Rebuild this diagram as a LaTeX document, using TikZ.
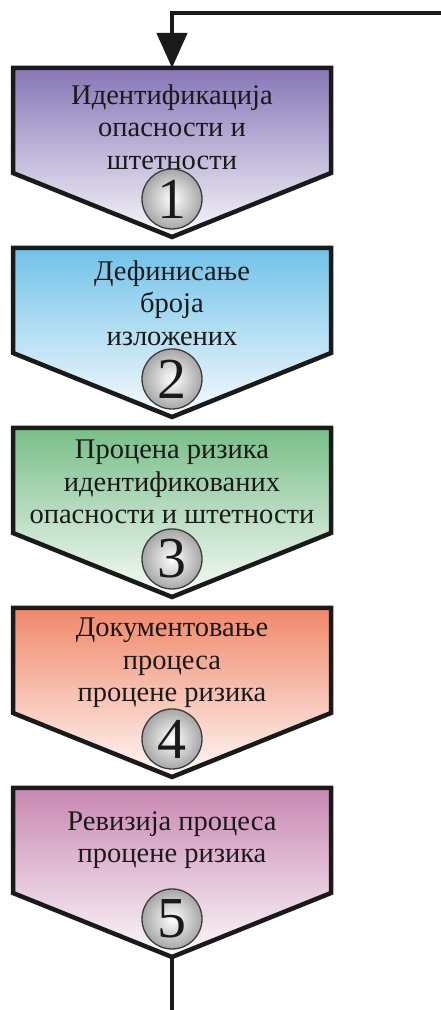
\documentclass[tikz,border=0pt]{standalone}
\usepackage{fontspec}
\setmainfont{Liberation Serif}
\usetikzlibrary{arrows.meta}
\definecolor{tintA}{HTML}{8676B6}
\definecolor{tintB}{HTML}{72C2E8}
\definecolor{tintC}{HTML}{78BE88}
\definecolor{tintD}{HTML}{F0886A}
\definecolor{tintE}{HTML}{C888B2}
\definecolor{ink}{HTML}{1A1A1A}
\tikzset{
  boxframe/.style={line width=4.5pt, line join=miter, draw=ink},
  boxtext/.style={align=center, text=ink, inner sep=0pt,
    font=\fontsize{28.5}{32.5}\selectfont},
  badge/.style={circle, minimum size=60pt, inner sep=0pt, draw=ink!85,
    line width=1.3pt, inner color=white, outer color=black!35,
    text=ink, font=\fontsize{58}{58}\selectfont},
  flow/.style={line width=4pt, draw=ink},
}
% #1 name, #2 top edge, #3 colour, #4 text, #5 step number, #6 text drop
\newcommand\flowbox[6]{%
  \path[boxframe, top color=#3, bottom color=#3!6!white]
    (13,#2) -- (331,#2) -- (331,#2-105) -- (172,#2-169) -- (13,#2-105) -- cycle;
  \node[boxtext] (#1) at (172,#2-#6) {#4};
  \node[badge] (#1num) at (172,#2-131) {#5};
  \coordinate (#1top) at (172,#2);
  \coordinate (#1tip) at (172,#2-169);
}
\begin{document}
\begin{tikzpicture}[x=1pt,y=1pt]
  \useasboundingbox (0,0) rectangle (441,1010);
  \flowbox{s1}{942}{tintA}{Идентификација\\опасности и\\штетности}{1}{59}
  \flowbox{s2}{762}{tintB}{Дефинисање\\броја\\изложених}{2}{55}
  \flowbox{s3}{582}{tintC}{Процена ризика\\идентификованих\\опасности и штетности}{3}{54}
  \flowbox{s4}{402}{tintD}{Документовање\\процеса\\процене ризика}{4}{55}
  \flowbox{s5}{222}{tintE}{Ревизија процеса\\процене ризика}{5}{52}
  % feedback line entering the first step
  \coordinate (feedin) at (441,997);
  \coordinate (feedout) at (172,0);
  \draw[flow, -{Triangle[length=35pt,width=30pt]}] (feedin) -| (s1top);
  \draw[flow] (s5tip) -- (feedout);
\end{tikzpicture}
\end{document}
